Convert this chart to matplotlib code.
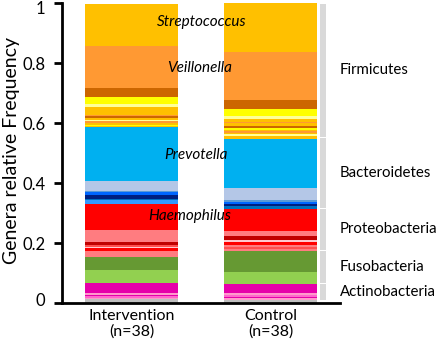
import numpy as np
import matplotlib
matplotlib.use("Agg")
import matplotlib.pyplot as plt
import matplotlib.transforms as mtransforms

plt.rcParams['font.family'] = ['Lato', 'DejaVu Sans']

# --- data (relative frequency of each genus band, bottom of list = top of bar) ---
groups = ["Intervention\n(n=38)", "Control\n(n=38)"]

# bands listed from the bottom of the stack upward
intervention_vals = [
    0.012, 0.005, 0.007, 0.003, 0.006, 0.035,            # Actinobacteria
    0.041, 0.044,                                        # Fusobacteria
    0.020, 0.011, 0.004, 0.007, 0.010, 0.040, 0.086,     # Proteobacteria
    0.011, 0.005, 0.012, 0.010, 0.004, 0.033, 0.179,     # Bacteroidetes
    0.005, 0.004, 0.006, 0.005, 0.004, 0.009, 0.004, 0.005,
    0.025, 0.011, 0.022, 0.033, 0.139, 0.141,            # Firmicutes
]
intervention_cols = [
    "#BFBFBF", "#FF99CC", "#FF66CC", "#E600AA", "#FF99CC", "#E600AA",
    "#92D050", "#669933",
    "#FF7C80", "#FF0000", "#FFC7CE", "#FF5050", "#C00000", "#FF7C80", "#FF0000",
    "#3399FF", "#0070C0", "#002080", "#0066FF", "#5B9BD5", "#B4C7E7", "#00B0F0",
    "#FFC000", "#FFFF00", "#FFC000", "#FF9933", "#FFFF99", "#FFC000", "#CC6600", "#FF9933",
    "#FFC000", "#FFFF99", "#FFFF00", "#CC6600", "#FF9933", "#FFC000",
]

control_vals = [
    0.010, 0.007, 0.003, 0.007, 0.006, 0.029,            # Actinobacteria
    0.040, 0.070,                                        # Fusobacteria
    0.009, 0.006, 0.007, 0.008, 0.007, 0.013, 0.017, 0.074,  # Proteobacteria
    0.009, 0.007, 0.008, 0.006, 0.042, 0.163,            # Bacteroidetes
    0.010, 0.004, 0.006, 0.005, 0.005, 0.005, 0.007, 0.010, 0.004,
    0.008, 0.011, 0.022, 0.033, 0.157, 0.165,            # Firmicutes
]
control_cols = [
    "#BFBFBF", "#FF99CC", "#E600AA", "#FF66CC", "#FF99CC", "#E600AA",
    "#92D050", "#669933",
    "#FF7C80", "#FF5050", "#FF7C80", "#FF0000", "#FFC7CE", "#C00000", "#FF7C80", "#FF0000",
    "#0070C0", "#002080", "#0066FF", "#5B9BD5", "#B4C7E7", "#00B0F0",
    "#FFC000", "#FFFF99", "#FFC000", "#FF9933", "#FFC000", "#FFFF00", "#CC6600", "#FFC000", "#FF9933",
    "#FFC000", "#FFFF99", "#FFFF00", "#CC6600", "#FF9933", "#FFC000",
]

# phylum brackets (lower, upper) on the right
phyla = ["Actinobacteria", "Fusobacteria", "Proteobacteria", "Bacteroidetes", "Firmicutes"]
phyla_lo = [0.009, 0.066, 0.176, 0.316, 0.552]
phyla_hi = [0.066, 0.176, 0.316, 0.552, 1.0]

genus_labels = ["Streptococcus", "Veillonella", "Prevotella", "Haemophilus"]
genus_x = [0.505, 0.49, 0.46, 0.42]
genus_y = [0.936, 0.782, 0.492, 0.289]

# --- figure ---
fig = plt.figure(figsize=(4.4, 3.45), dpi=100)
ax = fig.add_axes([62 / 440, 42 / 345, 278 / 440, 300 / 345])

bar_w = 0.667
for xi, (vals, cols) in enumerate([(intervention_vals, intervention_cols),
                                   (control_vals, control_cols)]):
    bottoms = np.concatenate([[0], np.cumsum(vals)[:-1]])
    ax.bar(np.full(len(vals), xi), vals, bottom=bottoms, width=bar_w,
           color=cols, edgecolor="none", linewidth=0)

# gray brackets + phylum names
for name, lo, hi in zip(phyla, phyla_lo, phyla_hi):
    ax.bar(1.38, hi - lo - 0.004, bottom=lo + 0.002, width=0.045,
           color="#D9D9D9", edgecolor="none")
    ax.text(1.5, (lo + hi) / 2, name, fontsize=10.8, ha="left", va="center",
            clip_on=False)

for lab, gx, gy in zip(genus_labels, genus_x, genus_y):
    ax.text(gx, gy, lab, fontsize=11, style="italic", ha="center", va="center")

ax.set_xlim(-0.5, 1.5)
ax.set_ylim(0, 1)
ax.set_xticks([0, 1])
ax.set_xticklabels(groups, fontsize=11.5, linespacing=1.15)
ax.tick_params(axis="x", length=0, pad=4)
ax.set_yticks([0, 0.2, 0.4, 0.6, 0.8, 1])
ax.set_yticklabels(["0", "0.2", "0.4", "0.6", "0.8", "1"], fontsize=12)
ax.tick_params(axis="y", length=6, width=2, direction="out", pad=6)
ax.set_ylabel("Genera relative Frequency", fontsize=14)
ax.yaxis.set_label_coords(-0.152, 0.51)

# nudge the end labels inward like the reference
ylabels = ax.get_yticklabels()
ylabels[0].set_transform(ylabels[0].get_transform() +
                         mtransforms.ScaledTranslation(0, 4 / 100, fig.dpi_scale_trans))
ylabels[-1].set_transform(ylabels[-1].get_transform() +
                          mtransforms.ScaledTranslation(0, -5 / 100, fig.dpi_scale_trans))

for s in ["top", "right"]:
    ax.spines[s].set_visible(False)
ax.spines["left"].set_linewidth(2)
ax.spines["bottom"].set_linewidth(2)

fig.savefig("out.png", dpi=100)
